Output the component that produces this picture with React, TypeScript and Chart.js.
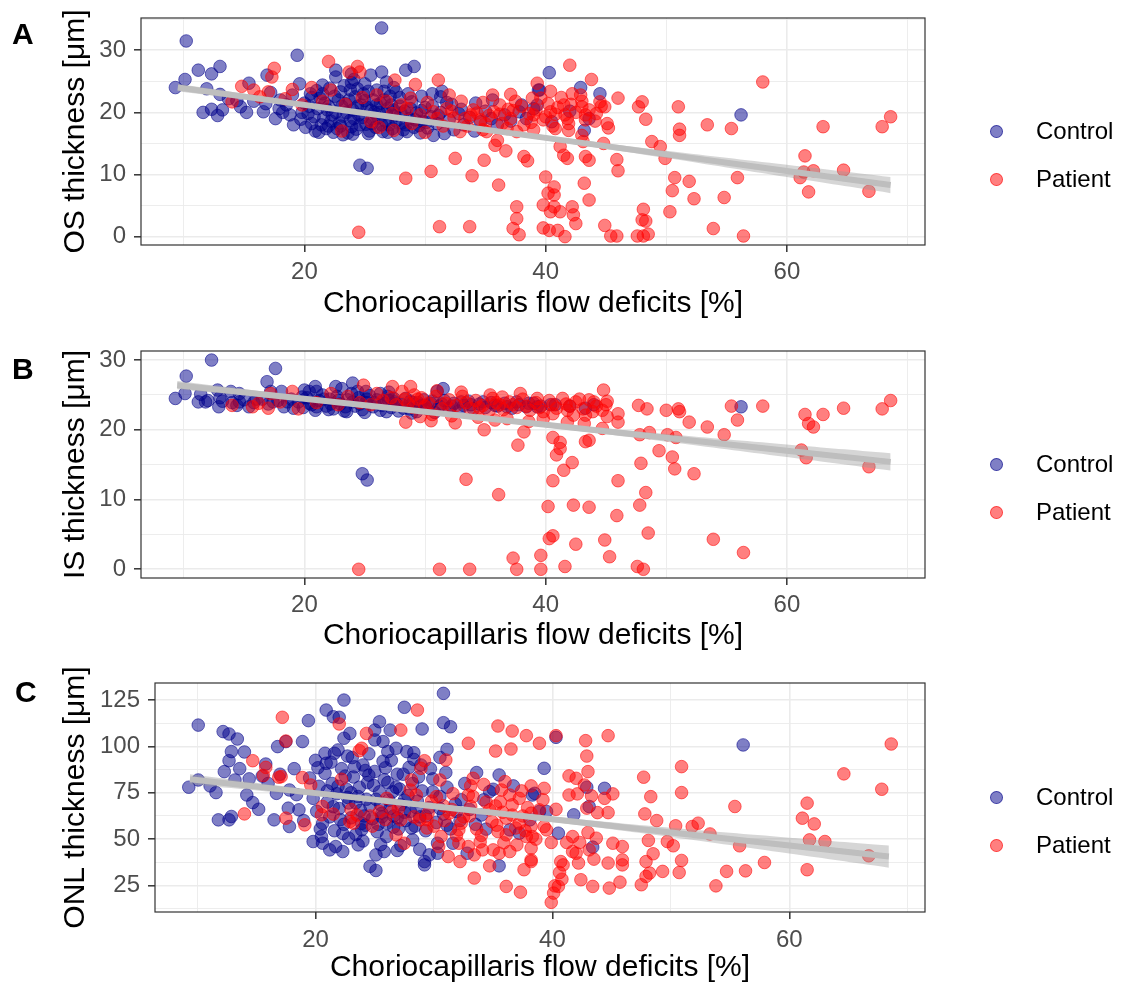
import React, { useEffect, useRef } from "react";
import { Chart, registerables } from "chart.js";

Chart.register(...registerables);

type Pt = [number, number];

// ---------- axes ----------
const xTicks = [10, 20, 30, 40, 50, 60, 70];
const xMajor = [20, 40, 60];
const osTicks = [0, 5, 10, 15, 20, 25, 30, 35];
const osMajor = [0, 10, 20, 30];
const isTicks = [0, 5, 10, 15, 20, 25, 30];
const isMajor = [0, 10, 20, 30];
const onlTicks = [12.5, 25, 37.5, 50, 62.5, 75, 87.5, 100, 112.5, 125];
const onlMajor = [25, 50, 75, 100, 125];

// ---------- Panel A : OS thickness ----------
const osControl: Pt[] = [
  [10.2, 31.5], [26.4, 33.6], [19.4, 29.2], [9.3, 24.0], [10.1, 25.3], [11.2, 26.8], [12.3, 26.2], [13.0, 27.4],
  [11.9, 23.8], [13.0, 22.9], [11.6, 20.0], [12.3, 20.5], [13.2, 20.4], [12.8, 19.5], [15.4, 24.7], [16.9, 26.0],
  [14.7, 20.9], [15.2, 20.0], [16.6, 20.1], [17.6, 19.0], [17.9, 20.6], [18.8, 19.6], [19.1, 18.0], [24.6, 11.5],
  [25.2, 11.0], [22.6, 26.8], [22.6, 25.7], [23.9, 26.2], [25.5, 26.0], [26.4, 26.5], [28.4, 26.8], [29.1, 27.4],
  [23.9, 24.8], [21.5, 24.4], [20.5, 23.0], [23.0, 23.3], [24.4, 23.8], [27.4, 24.0], [29.7, 22.6], [31.4, 23.4],
  [31.3, 22.5], [32.2, 21.3], [34.2, 21.5], [35.6, 22.0], [38.0, 21.2], [39.4, 23.6], [40.3, 26.4], [42.9, 24.0],
  [39.5, 23.6], [44.5, 23.0], [39.0, 20.6], [39.3, 21.2], [42.0, 20.2], [40.5, 18.5], [43.6, 19.0], [43.2, 17.1],
  [56.2, 19.6],
  [20.0, 21.5], [20.3, 19.8], [20.6, 18.2], [20.9, 17.0], [21.1, 20.6], [21.3, 22.3], [21.6, 19.1], [21.8, 17.4],
  [22.0, 21.0], [22.2, 18.6], [22.4, 16.8], [22.6, 20.0], [22.8, 22.0], [23.0, 17.8], [23.2, 19.4], [23.4, 21.4],
  [23.6, 16.7], [23.8, 18.7], [24.0, 20.4], [24.2, 22.5], [24.3, 17.3], [24.5, 19.6], [24.7, 21.2], [24.9, 23.0],
  [25.1, 18.1], [25.3, 16.6], [25.5, 20.3], [25.7, 22.0], [25.9, 17.6], [26.1, 19.1], [26.3, 21.5], [26.5, 16.9],
  [26.7, 18.6], [26.9, 20.6], [27.1, 22.6], [27.3, 17.4], [27.5, 19.5], [27.7, 16.5], [27.9, 21.0], [28.1, 18.3],
  [28.3, 20.2], [28.5, 16.9], [28.7, 19.0], [28.9, 21.7], [29.1, 17.6], [29.3, 19.9], [29.6, 16.7], [29.8, 18.6],
  [30.0, 20.8], [30.2, 17.5], [30.5, 19.3], [30.7, 16.3], [31.0, 18.2], [31.3, 20.0], [31.6, 16.6], [32.0, 18.8],
  [32.4, 17.2], [32.8, 19.8], [33.2, 18.0], [33.7, 19.2], [34.1, 17.0], [34.6, 18.5], [35.0, 20.2], [35.5, 19.0],
  [36.0, 18.0], [36.6, 19.6], [37.1, 18.6], [37.8, 20.1], [38.4, 19.0],
  [21.0, 23.5], [22.1, 23.9], [23.3, 24.3], [24.1, 25.3], [25.0, 24.6], [26.0, 23.6], [26.8, 24.9], [27.6, 23.3],
  [28.6, 23.0], [21.9, 20.4], [23.1, 21.0], [24.6, 18.0], [25.6, 19.0], [26.2, 20.0], [27.0, 18.0], [22.7, 17.4],
  [24.0, 16.5], [25.4, 17.0], [19.8, 20.0], [20.1, 17.6], [18.5, 21.2], [18.0, 22.0], [16.8, 21.4], [15.8, 21.8],
  [14.4, 21.9], [13.7, 22.2], [17.2, 23.2], [19.0, 22.8], [19.6, 24.6], [18.2, 20.0],
  [19.7, 18.9], [20.4, 21.0], [20.8, 19.3], [21.4, 18.0], [21.7, 21.5], [22.3, 19.6], [22.9, 18.3], [23.5, 20.0],
  [23.9, 17.7], [24.4, 21.0], [24.8, 19.2], [25.2, 20.8], [25.6, 18.2], [26.0, 21.2], [26.4, 18.0], [26.8, 19.8],
  [27.2, 21.2], [27.6, 18.6], [28.0, 19.9], [28.4, 18.0], [28.8, 20.6], [29.2, 18.8], [29.7, 20.3], [30.1, 18.4],
  [30.6, 21.0], [31.1, 19.5], [21.2, 16.8], [22.5, 22.6], [23.7, 22.0], [25.0, 21.9], [26.6, 22.0], [27.9, 22.4],
  [24.1, 19.0], [25.8, 20.0], [27.4, 20.4], [22.0, 17.8], [23.2, 16.4], [26.9, 16.8], [28.2, 17.2], [29.5, 17.9],
  [21.5, 23.0], [23.8, 23.6], [25.3, 23.4], [26.6, 23.4], [20.6, 22.4], [31.8, 21.6], [33.0, 20.5], [30.6, 23.0],
];
const osPatient: Pt[] = [
  [22.0, 28.2], [17.5, 27.1], [17.3, 25.7], [24.4, 27.4], [24.6, 26.5], [23.7, 26.5], [14.8, 24.2], [15.8, 23.6],
  [17.0, 23.3], [19.0, 23.7], [20.6, 24.0], [14.0, 21.7], [22.2, 23.6], [27.5, 25.2], [29.2, 24.5], [31.1, 25.2],
  [37.1, 22.9], [38.9, 22.3], [23.1, 17.0], [23.4, 21.3], [25.5, 18.5], [27.4, 17.1], [28.0, 21.2], [28.5, 20.6],
  [30.7, 20.1], [32.9, 16.9], [33.8, 19.6], [34.6, 18.8], [35.7, 20.1], [36.2, 21.2], [37.1, 19.0], [37.6, 16.9],
  [35.1, 16.9], [36.0, 15.5], [35.8, 14.7], [36.7, 13.8], [38.2, 12.9], [38.5, 12.2], [32.5, 12.6], [34.9, 12.3],
  [33.9, 9.8], [30.5, 10.5], [28.4, 9.4], [36.1, 8.3], [37.6, 4.8], [37.6, 2.9], [37.3, 1.3], [37.8, 0.3],
  [31.2, 1.6], [33.7, 1.6], [24.5, 0.7],
  [16.3, 22.5], [18.4, 22.2], [19.8, 21.2], [21.5, 21.8], [24.8, 22.4], [26.0, 22.8], [26.8, 21.8], [28.8, 22.3],
  [29.6, 19.6], [30.2, 21.6], [31.8, 20.6], [32.4, 19.1], [33.0, 21.8], [33.5, 17.8], [34.0, 20.4], [34.8, 21.6],
  [35.3, 19.5], [36.4, 18.2], [36.9, 20.5], [37.5, 21.8], [38.2, 18.0], [38.6, 19.8], [39.0, 17.2], [39.8, 18.8],
  [40.2, 21.4], [40.8, 19.7], [41.3, 22.4], [41.9, 18.2], [42.5, 20.0], [43.0, 21.8], [43.6, 20.4], [44.2, 19.8],
  [28.9, 18.2], [27.3, 19.8], [26.2, 17.6], [31.5, 17.8], [30.0, 16.8], [32.0, 22.8], [35.6, 22.8],
  [31.0, 19.0], [32.2, 20.2], [33.3, 19.0], [34.3, 19.9], [35.0, 18.2], [36.2, 19.7], [37.3, 20.3], [38.0, 21.0],
  [39.2, 20.4], [40.0, 19.3], [41.0, 20.8], [42.1, 21.3], [43.3, 18.8], [44.6, 21.0], [36.8, 17.4], [34.8, 17.2],
  [39.6, 22.3], [41.6, 19.6], [38.8, 18.4], [40.6, 17.8],
  [42.0, 27.6], [43.8, 25.3], [39.3, 24.7], [40.4, 23.4], [42.2, 23.0], [42.9, 22.8], [46.0, 22.3], [44.5, 21.7],
  [44.9, 20.9], [41.5, 21.2], [43.0, 20.9], [48.0, 21.7], [47.7, 20.9], [51.0, 20.9], [40.4, 20.1], [39.0, 19.6],
  [41.8, 19.0], [43.3, 19.6], [44.1, 18.6], [45.1, 18.2], [45.2, 17.5], [48.3, 18.9], [51.1, 17.3], [51.1, 16.3],
  [53.4, 18.0], [55.4, 17.4], [58.0, 24.9], [63.0, 17.7], [67.9, 17.7], [68.6, 19.3], [40.8, 17.4], [41.9, 17.1],
  [43.0, 16.3], [43.1, 15.3], [44.8, 15.0], [41.2, 14.5], [41.5, 13.1], [41.8, 12.6], [43.3, 12.9], [43.6, 12.3],
  [45.9, 12.4], [46.0, 10.6], [48.8, 15.3], [49.5, 14.5], [49.9, 12.6], [40.0, 9.6], [43.2, 8.6], [50.7, 9.5],
  [51.9, 8.9], [55.9, 9.5], [61.5, 13.0], [61.4, 10.4], [62.2, 10.6], [61.1, 9.5], [64.7, 10.7], [61.8, 7.2],
  [66.8, 7.3], [50.5, 7.4], [52.3, 6.1], [54.8, 6.3], [40.2, 7.0], [40.7, 8.0], [40.7, 6.7], [43.6, 5.9],
  [39.8, 5.1], [40.4, 4.0], [40.7, 4.8], [41.2, 4.0], [42.2, 4.8], [42.3, 3.5], [42.5, 2.1], [48.1, 4.4],
  [48.0, 2.7], [48.3, 2.5], [50.3, 4.0], [39.8, 1.4], [40.3, 1.0], [41.0, 1.0], [41.6, 0.0], [44.9, 1.8],
  [45.4, 0.1], [45.9, 0.1], [47.6, 0.1], [48.1, 0.1], [48.5, 0.4], [53.9, 1.3], [56.4, 0.1],
];
const osFitX = [9.5, 20, 30, 40, 50, 60, 68.6];
const osFitY = [24.0, 21.21, 18.55, 15.9, 13.24, 10.58, 8.3];
const osLow = [23.4, 20.86, 18.25, 15.5, 12.64, 9.58, 7.0];
const osHigh = [24.6, 21.56, 18.85, 16.3, 13.84, 11.58, 9.6];

// ---------- Panel B : IS thickness ----------
const isControl: Pt[] = [
  [12.3, 30.0], [10.2, 27.7], [17.6, 28.8], [9.3, 24.5], [10.1, 25.2], [16.9, 26.9], [12.8, 25.7], [11.2, 24.0],
  [11.8, 24.0], [12.9, 23.3], [13.9, 25.5], [14.6, 25.2], [14.4, 23.5], [15.4, 23.3], [17.2, 25.5], [18.1, 25.5],
  [18.3, 23.3], [19.1, 23.1], [20.4, 25.5], [20.9, 26.2], [22.6, 26.2], [23.1, 25.9], [24.0, 26.7], [25.1, 25.5],
  [26.3, 25.2], [27.4, 24.5], [31.0, 25.5], [31.5, 25.9], [24.8, 13.7], [25.2, 12.8], [40.4, 23.6], [56.2, 23.3],
  [39.3, 23.3], [43.3, 23.1],
  [19.5, 24.0], [19.9, 23.2], [20.2, 24.6], [20.6, 23.6], [20.9, 22.8], [21.2, 24.2], [21.5, 25.0], [21.8, 23.4],
  [22.1, 24.4], [22.4, 23.0], [22.7, 24.8], [23.0, 23.7], [23.3, 22.7], [23.6, 24.3], [23.9, 25.2], [24.2, 23.4],
  [24.5, 24.6], [24.8, 22.9], [25.1, 23.9], [25.4, 24.9], [25.7, 23.3], [26.0, 24.3], [26.3, 22.8], [26.6, 23.8],
  [26.9, 24.8], [27.2, 23.2], [27.5, 24.0], [27.8, 22.7], [28.1, 23.6], [28.4, 24.5], [28.7, 23.0], [29.0, 23.9],
  [29.3, 22.6], [29.6, 23.5], [29.9, 24.3], [30.2, 23.0], [30.5, 23.8], [30.8, 22.5], [31.2, 23.4], [31.6, 24.2],
  [32.0, 23.1], [32.4, 23.8], [32.8, 22.7], [33.2, 23.5], [33.6, 24.1], [34.0, 23.0], [34.5, 23.7], [35.0, 23.2],
  [35.5, 23.9], [36.0, 23.4], [36.6, 23.8], [37.2, 23.1], [37.8, 23.6], [38.4, 23.3], [39.0, 23.8], [13.2, 24.1],
  [14.0, 23.9], [15.0, 24.3], [15.8, 23.9], [16.5, 24.4], [17.0, 23.7], [17.8, 24.2], [18.6, 24.0], [20.0, 25.7],
  [21.0, 25.5], [22.0, 22.9], [23.5, 22.6], [25.0, 22.5], [26.8, 22.6], [28.9, 22.4], [24.4, 25.5], [27.0, 25.4],
  [19.8, 24.7], [20.4, 23.8], [21.0, 23.3], [21.6, 24.4], [22.2, 23.7], [22.8, 24.2], [23.4, 23.3], [24.0, 24.0],
  [24.6, 23.7], [25.2, 24.4], [25.8, 23.9], [26.4, 23.5], [27.0, 24.2], [27.6, 23.7], [28.2, 23.1], [28.8, 24.1],
  [29.4, 23.9], [30.0, 23.5], [30.6, 24.1], [31.4, 23.7], [32.2, 23.4], [33.0, 24.0], [33.8, 23.6], [34.8, 24.0],
  [35.8, 23.5], [36.8, 23.3], [37.6, 24.0], [38.6, 23.8], [39.6, 23.4], [40.8, 23.6], [42.0, 23.4], [44.0, 23.6],
  [14.6, 24.0], [16.0, 24.4], [17.4, 24.0], [18.9, 24.4], [13.0, 24.6], [12.0, 24.2], [11.4, 25.1],
];
const isPatient: Pt[] = [
  [19.0, 25.5], [17.2, 25.2], [15.7, 23.3], [14.0, 23.5], [17.0, 23.1], [22.2, 25.2], [24.9, 26.4], [27.3, 26.2],
  [28.8, 26.2], [28.1, 25.5], [29.1, 25.0], [28.4, 21.1], [29.6, 21.9], [30.5, 21.3], [32.5, 21.0], [34.9, 20.0],
  [35.4, 25.0], [36.4, 24.7], [37.9, 25.2], [35.8, 21.4], [38.2, 19.7], [37.7, 17.8], [33.4, 12.9], [36.1, 10.7],
  [24.5, 0.0], [31.2, 0.0], [33.7, 0.0], [37.3, 1.6], [37.6, 0.0], [39.6, 2.0], [39.6, 0.0],
  [27.6, 23.6], [28.3, 24.4], [29.0, 23.2], [29.7, 24.6], [30.3, 23.8], [30.9, 24.8], [31.4, 23.0], [32.0, 24.3],
  [32.6, 23.5], [33.1, 24.8], [33.7, 23.1], [34.2, 24.2], [34.8, 23.5], [35.3, 22.7], [35.9, 23.9], [36.5, 22.9],
  [37.0, 24.0], [37.6, 23.2], [38.1, 24.4], [38.7, 22.8], [39.2, 23.9], [39.8, 22.6], [40.3, 24.2], [40.9, 23.1],
  [41.4, 24.5], [42.0, 23.4], [42.5, 24.0], [43.1, 23.0], [43.6, 24.3], [44.2, 23.4], [44.7, 22.8], [26.0, 25.2],
  [25.5, 23.6], [23.6, 24.8], [22.8, 23.6], [21.0, 23.9], [19.5, 23.0], [18.0, 24.0], [16.2, 23.8], [30.6, 22.2],
  [32.2, 22.0], [34.4, 21.8], [36.8, 21.6], [38.6, 21.2], [31.0, 25.6], [33.0, 25.4],
  [27.2, 24.6], [28.6, 23.8], [29.4, 24.4], [30.0, 23.4], [31.7, 23.8], [33.4, 23.9], [34.5, 23.2], [35.6, 24.5],
  [36.2, 23.6], [37.3, 23.6], [38.4, 23.4], [39.5, 23.2], [40.6, 23.6], [41.7, 23.7], [42.8, 24.4], [44.0, 24.0],
  [45.0, 23.6], [43.9, 22.6], [26.5, 24.2], [24.6, 23.9],
  [44.8, 25.7], [45.1, 24.1], [39.3, 24.5], [40.6, 22.3], [39.8, 21.6], [41.8, 22.8], [42.3, 22.1], [43.3, 22.1],
  [46.0, 22.3], [46.0, 21.1], [45.1, 21.9], [41.8, 21.1], [43.2, 20.9], [44.7, 20.2], [47.7, 23.5], [48.4, 23.0],
  [50.0, 22.8], [51.0, 23.0], [51.1, 22.6], [51.9, 21.1], [53.4, 20.4], [54.8, 19.3], [55.4, 23.4], [55.9, 21.4],
  [58.0, 23.4], [61.5, 22.2], [61.8, 20.9], [62.2, 20.4], [63.0, 22.2], [64.7, 23.1], [67.9, 23.0], [68.6, 24.2],
  [61.2, 17.1], [61.6, 16.0], [66.8, 14.7], [47.8, 19.3], [48.6, 19.6], [50.1, 19.3], [50.8, 18.9], [49.4, 17.0],
  [50.5, 16.1], [50.7, 14.4], [52.3, 13.7], [47.9, 15.2], [48.3, 11.0], [47.8, 9.2], [48.5, 5.2], [46.0, 12.7],
  [45.9, 7.7], [44.9, 4.2], [45.3, 1.8], [47.6, 0.4], [48.1, 0.0], [53.9, 4.3], [56.4, 2.4], [40.6, 18.9],
  [41.2, 18.2], [41.2, 17.3], [40.9, 16.4], [43.3, 18.3], [43.6, 18.5], [42.2, 15.3], [41.5, 14.2], [40.6, 12.7],
  [40.2, 9.0], [42.3, 9.2], [43.6, 8.9], [40.3, 4.4], [40.6, 4.8], [42.5, 3.6], [41.6, 0.4],
];
const isFitX = [9.45, 20, 30, 40, 50, 60, 68.6];
const isFitY = [26.4, 24.44, 22.58, 20.72, 18.86, 17.0, 15.4];
const isLow = [25.8, 24.1, 22.3, 20.35, 18.3, 16.1, 14.15];
const isHigh = [27.0, 24.8, 22.86, 21.1, 19.4, 17.9, 16.65];

// ---------- Panel C : ONL thickness ----------
const onlControl: Pt[] = [
  [10.1, 111.5], [12.2, 108.0], [12.7, 106.7], [9.3, 78.0], [10.1, 81.9], [11.1, 78.7], [11.6, 75.1], [12.9, 97.2],
  [12.7, 92.3], [12.3, 86.4], [13.2, 81.9], [14.4, 82.5], [14.2, 73.8], [14.7, 69.7], [15.2, 66.1], [11.8, 60.4],
  [12.7, 60.4], [12.9, 62.2], [16.8, 99.9], [17.5, 102.6], [18.9, 102.6], [19.4, 113.9], [16.5, 60.4], [16.7, 74.7],
  [17.8, 76.5], [17.7, 66.7], [18.6, 65.8], [17.8, 56.8], [20.9, 119.6], [21.5, 116.0], [22.0, 115.7], [22.4, 125.0],
  [20.8, 96.3], [21.6, 96.3], [20.9, 90.9], [21.9, 98.1], [22.4, 104.4], [22.9, 107.0], [22.7, 94.8], [25.0, 108.8],
  [25.4, 113.3], [25.0, 103.5], [25.7, 102.6], [26.3, 108.8], [26.1, 97.2], [26.8, 99.0], [27.5, 121.1], [29.0, 109.4],
  [27.7, 97.2], [28.3, 96.6], [28.3, 93.0], [28.9, 90.0], [27.9, 88.7], [30.8, 128.6], [30.8, 112.8], [31.4, 110.6],
  [31.1, 98.4], [30.5, 94.1], [31.0, 85.9], [33.6, 85.9], [35.5, 84.6], [34.2, 71.2], [35.0, 76.9], [36.7, 78.7],
  [38.5, 74.7], [37.2, 53.2], [35.5, 35.6], [32.3, 71.2], [31.9, 64.9], [34.7, 75.6],
  [19.8, 48.7], [20.5, 51.4], [21.2, 44.2], [22.3, 43.3], [21.7, 46.0], [20.6, 47.8], [23.6, 46.9], [24.6, 35.3],
  [25.1, 33.1], [25.1, 41.5], [25.8, 43.3], [26.9, 43.9], [26.0, 51.4], [28.2, 49.6], [29.2, 37.9], [29.2, 36.1],
  [29.6, 41.5], [30.3, 42.4], [30.3, 47.8], [31.6, 47.8], [32.8, 42.4], [34.4, 55.4], [36.4, 55.0],
  [19.5, 83.0], [19.8, 72.0], [20.1, 65.0], [20.3, 78.5], [20.6, 58.5], [20.8, 85.5], [21.0, 70.0], [21.2, 62.0],
  [21.4, 80.0], [21.6, 54.5], [21.8, 74.5], [22.0, 66.5], [22.2, 88.0], [22.4, 58.0], [22.6, 77.0], [22.8, 69.5],
  [23.0, 61.5], [23.2, 83.5], [23.4, 52.5], [23.6, 73.0], [23.8, 65.5], [24.0, 90.0], [24.2, 57.5], [24.4, 80.5],
  [24.6, 68.0], [24.8, 61.0], [25.0, 86.5], [25.2, 54.0], [25.4, 75.5], [25.6, 64.0], [25.8, 82.0], [26.0, 58.5],
  [26.2, 71.0], [26.4, 92.5], [26.6, 62.5], [26.8, 78.0], [27.0, 55.5], [27.2, 68.5], [27.4, 85.0], [27.6, 60.0],
  [27.8, 73.5], [28.0, 65.0], [28.2, 80.0], [28.4, 57.0], [28.6, 70.5], [28.8, 62.0], [29.0, 76.0], [29.3, 54.5],
  [29.6, 67.0], [29.9, 82.5], [30.2, 59.0], [30.5, 73.0], [30.8, 63.5], [31.1, 78.0], [31.4, 55.5], [31.8, 69.0],
  [32.2, 60.0], [32.6, 80.0], [33.0, 66.0], [33.5, 58.0], [34.0, 63.0], [21.3, 91.5], [23.1, 94.0], [24.5, 96.0],
  [25.9, 88.5], [22.5, 84.0], [24.3, 71.5], [25.5, 68.5], [26.5, 75.5], [23.7, 78.0], [27.5, 64.5], [20.0, 92.5],
  [18.2, 88.0], [15.8, 90.5], [16.0, 80.0], [17.0, 85.0], [19.0, 60.0], [18.4, 74.0], [15.5, 84.0], [13.6, 88.0],
  [14.0, 97.0], [13.4, 104.0], [24.0, 49.0], [25.5, 47.0], [27.2, 46.5], [28.8, 44.5], [22.8, 50.5], [26.6, 56.5],
  [20.2, 88.5], [21.0, 76.0], [21.5, 67.5], [22.1, 60.5], [22.7, 72.5], [23.3, 89.0], [23.9, 58.5], [24.5, 84.5],
  [25.1, 71.5], [25.7, 92.0], [26.3, 66.5], [26.9, 85.0], [27.5, 71.0], [28.1, 56.0], [28.7, 83.5], [29.3, 62.5],
  [29.9, 75.5], [30.5, 66.5], [31.1, 57.5], [24.1, 62.5], [25.3, 58.0], [26.9, 61.5], [22.3, 53.0], [23.9, 55.0],
  [24.9, 79.0], [26.1, 80.5], [27.1, 77.0], [23.0, 75.0], [21.9, 78.5], [20.4, 55.5], [28.5, 67.0], [29.7, 88.0],
  [25.6, 62.0], [24.2, 87.0], [23.4, 69.5],
  [40.3, 104.9], [39.3, 88.2], [38.3, 73.8], [42.9, 78.0], [44.4, 77.4], [43.1, 67.6], [41.8, 63.1], [38.9, 64.9],
  [39.5, 64.9], [38.1, 60.4], [40.5, 53.2], [43.4, 45.7], [56.1, 100.8],
];
const onlPatient: Pt[] = [
  [17.2, 115.7], [22.0, 112.1], [28.6, 119.6], [27.2, 108.8], [24.3, 107.0], [23.9, 99.0], [23.7, 97.7], [17.5, 102.9],
  [14.7, 92.3], [15.8, 88.7], [15.6, 84.3], [16.9, 83.4], [17.1, 83.7], [18.9, 83.2], [19.6, 79.2], [14.0, 63.6],
  [17.5, 61.3], [19.1, 57.7], [20.5, 63.1], [22.2, 82.3], [31.0, 92.7], [29.2, 92.3], [28.9, 88.2], [30.5, 81.9],
  [28.1, 81.9], [32.9, 101.7], [35.4, 111.0], [36.6, 108.3], [37.8, 105.8], [35.2, 97.5], [36.5, 98.6], [33.3, 82.8],
  [33.1, 78.7], [32.9, 73.8], [38.2, 78.7], [35.7, 76.5], [36.4, 73.8], [37.2, 72.0], [33.1, 67.6], [34.7, 65.8],
  [35.2, 67.9], [36.1, 61.3], [37.2, 58.6], [35.4, 54.1], [36.1, 52.3], [37.8, 51.4], [37.0, 46.9], [35.0, 44.2],
  [34.1, 44.2], [35.5, 42.4], [36.4, 43.3], [38.2, 38.8], [32.9, 46.0], [33.4, 41.5], [32.2, 37.9], [34.7, 35.6],
  [37.6, 33.5], [33.4, 29.0], [36.1, 24.5], [37.3, 21.4], [31.2, 40.6], [30.6, 51.4], [32.1, 55.0], [31.3, 64.0],
  [23.2, 58.6], [22.9, 59.5], [25.4, 64.9], [26.5, 64.9], [27.2, 60.4], [27.5, 47.8], [26.8, 52.3], [28.8, 60.4],
  [29.5, 64.0], [30.2, 72.9], [28.5, 73.8], [28.0, 76.5], [32.1, 47.8], [32.3, 58.6], [38.2, 64.0], [38.6, 50.0],
  [20.6, 67.6],
  [30.0, 57.0], [30.8, 68.0], [31.6, 74.5], [32.5, 62.0], [33.6, 55.5], [34.4, 70.0], [34.9, 59.5], [35.8, 64.5],
  [36.6, 68.5], [37.5, 62.5], [33.9, 48.5], [35.9, 48.0], [36.9, 56.0], [31.9, 52.0], [29.4, 56.0], [30.4, 46.0],
  [34.2, 79.5], [36.0, 81.0], [37.4, 76.0], [37.9, 67.0], [29.8, 70.5], [26.0, 72.0], [24.8, 57.0], [23.5, 63.0],
  [21.5, 63.5], [23.0, 66.0], [24.6, 62.5], [25.9, 60.5], [27.0, 66.5], [28.3, 62.0], [29.4, 60.5], [30.9, 60.0],
  [31.5, 66.0], [33.0, 62.5], [34.0, 52.0], [35.3, 57.5], [36.6, 63.0], [37.7, 54.5], [33.3, 73.0], [35.6, 70.0],
  [40.3, 105.8], [38.9, 101.7], [42.8, 103.1], [44.7, 105.8], [42.9, 94.8], [43.0, 86.4], [41.4, 84.1], [42.0, 82.8],
  [42.7, 79.2], [39.3, 77.4], [42.1, 74.4], [43.3, 73.3], [44.4, 72.0], [45.1, 74.4], [41.4, 73.8], [39.2, 71.2],
  [42.9, 66.7], [43.8, 64.3], [44.7, 64.3], [40.3, 66.1], [38.9, 65.8], [38.2, 56.8], [38.3, 51.4], [38.2, 45.1],
  [38.2, 37.9], [39.3, 56.8], [39.5, 55.0], [39.9, 48.2], [41.2, 48.2], [41.7, 51.4], [42.3, 48.2], [41.7, 43.3],
  [42.0, 42.4], [40.7, 37.9], [42.2, 37.1], [40.9, 36.1], [43.0, 53.6], [43.7, 50.5], [43.1, 44.2], [43.5, 39.2],
  [44.7, 37.1], [45.1, 47.8], [45.9, 46.0], [45.9, 38.8], [45.9, 36.1], [40.6, 32.0], [40.8, 28.4], [40.5, 24.5],
  [40.2, 24.8], [40.1, 20.9], [39.9, 15.9], [42.4, 28.1], [43.4, 24.5], [44.8, 23.6], [45.7, 26.8], [47.5, 25.4],
  [47.9, 29.9], [48.2, 31.7], [47.9, 37.9], [48.5, 42.1], [48.1, 49.3], [47.8, 63.6], [48.8, 60.0], [47.7, 83.4],
  [48.3, 72.9], [49.3, 32.6], [50.7, 32.0], [50.9, 38.5], [49.7, 48.7], [50.2, 46.4], [50.4, 57.2], [50.9, 89.1],
  [50.9, 75.1], [51.8, 56.8], [52.3, 58.6], [53.3, 52.8], [53.8, 24.8], [54.7, 32.6], [55.4, 67.6], [55.8, 46.4],
  [56.3, 32.9], [57.9, 37.4], [61.1, 61.3], [61.5, 69.4], [62.1, 58.2], [61.7, 49.6], [63.0, 48.7], [61.5, 33.5],
  [64.6, 85.2], [66.7, 41.0], [67.8, 76.9], [68.6, 101.3],
];
const onlFitX = [9.4, 20, 30, 40, 50, 60, 68.4];
const onlFitY = [82.3, 74.81, 67.74, 60.67, 53.6, 46.53, 40.6];
const onlLow = [79.6, 73.2, 66.5, 59.2, 51.1, 42.2, 34.6];
const onlHigh = [85.0, 76.4, 69.0, 62.2, 56.1, 50.8, 46.6];

// ---------- styling ----------
const FONT = '"Liberation Sans", Arial, Helvetica, sans-serif';
const CONTROL_FILL = "rgba(0,0,139,0.5)";
const CONTROL_EDGE = "rgba(0,0,139,0.55)";
const PATIENT_FILL = "rgba(255,0,0,0.5)";
const PATIENT_EDGE = "rgba(255,0,0,0.55)";
const XMIN = 6.45;
const XMAX = 71.45;

interface PanelCfg {
  top: number;
  height: number;
  padTop: number;
  yWidth: number;
  chartBottom: number;
  xTickPad: number;
  xTitlePad: number;
  yMin: number;
  yMax: number;
  yTicks: number[];
  yMajor: number[];
  yTitle: string;
  control: Pt[];
  patient: Pt[];
  fitX: number[];
  fitY: number[];
  low: number[];
  high: number[];
}

const near = (list: number[], v: number) => list.some((m) => Math.abs(m - v) < 1e-6);

const framePlugin = {
  id: "frame",
  afterDatasetsDraw(chart: any) {
    const { ctx, chartArea } = chart;
    ctx.save();
    ctx.strokeStyle = "#333333";
    ctx.lineWidth = 1.2;
    ctx.strokeRect(chartArea.left, chartArea.top, chartArea.right - chartArea.left, chartArea.bottom - chartArea.top);
    ctx.restore();
  },
};

function Panel({ cfg }: { cfg: PanelCfg }) {
  const ref = useRef<HTMLCanvasElement>(null);
  useEffect(() => {
    const toXY = (pts: Pt[]) => pts.map(([x, y]) => ({ x, y }));
    const line = (ys: number[]) => cfg.fitX.map((x, i) => ({ x, y: ys[i] }));
    const chart = new Chart(ref.current as HTMLCanvasElement, {
      type: "scatter",
      data: {
        datasets: [
          {
            label: "fit",
            data: line(cfg.fitY),
            showLine: true,
            borderColor: "#BEBEBE",
            borderWidth: 6,
            pointRadius: 0,
            fill: false,
            tension: 0,
            order: 0,
          } as any,
          {
            label: "upper",
            data: line(cfg.high),
            showLine: true,
            borderColor: "rgba(0,0,0,0)",
            borderWidth: 1,
            pointRadius: 0,
            fill: "+1",
            backgroundColor: "rgba(153,153,153,0.4)",
            tension: 0.4,
            order: 1,
          } as any,
          {
            label: "lower",
            data: line(cfg.low),
            showLine: true,
            borderColor: "rgba(0,0,0,0)",
            borderWidth: 1,
            pointRadius: 0,
            fill: false,
            tension: 0.4,
            order: 1,
          } as any,
          {
            label: "Patient",
            data: toXY(cfg.patient),
            backgroundColor: PATIENT_FILL,
            borderColor: PATIENT_EDGE,
            borderWidth: 1,
            pointRadius: 6.3,
            order: 2,
          },
          {
            label: "Control",
            data: toXY(cfg.control),
            backgroundColor: CONTROL_FILL,
            borderColor: CONTROL_EDGE,
            borderWidth: 1,
            pointRadius: 6.3,
            order: 3,
          },
        ],
      },
      options: {
        animation: false,
        responsive: false,
        devicePixelRatio: 1,
        events: [],
        layout: { padding: { top: cfg.padTop, right: 1121 - 925, left: 0, bottom: 0 } },
        plugins: { legend: { display: false }, tooltip: { enabled: false } },
        scales: {
          x: {
            type: "linear",
            min: XMIN,
            max: XMAX,
            afterBuildTicks: (s: any) => {
              s.ticks = xTicks.map((v) => ({ value: v }));
            },
            afterFit: (s: any) => {
              s.height = cfg.height - cfg.chartBottom;
              s.paddingLeft = 0;
              s.paddingRight = 0;
            },
            ticks: {
              autoSkip: false,
              maxRotation: 0,
              padding: cfg.xTickPad,
              color: "#4D4D4D",
              font: { family: FONT, size: 24 },
              callback: (v: any) => (near(xMajor, Number(v)) ? String(v) : ""),
            },
            grid: {
              color: "#EBEBEB",
              lineWidth: (c: any) => (c.tick && near(xMajor, c.tick.value) ? 1.6 : 0.9),
              tickColor: (c: any) => (c.tick && near(xMajor, c.tick.value) ? "#333333" : "rgba(0,0,0,0)"),
              tickWidth: 1.5,
              tickLength: 7,
            },
            border: { display: false },
            title: {
              display: true,
              text: "Choriocapillaris flow deficits [%]",
              color: "#000000",
              font: { family: FONT, size: 30 },
              padding: { top: 0, bottom: cfg.xTitlePad },
            },
          } as any,
          y: {
            type: "linear",
            min: cfg.yMin,
            max: cfg.yMax,
            afterBuildTicks: (s: any) => {
              s.ticks = cfg.yTicks.map((v) => ({ value: v }));
            },
            afterFit: (s: any) => {
              s.width = cfg.yWidth;
              s.paddingTop = 0;
              s.paddingBottom = 0;
            },
            ticks: {
              autoSkip: false,
              padding: 8,
              color: "#4D4D4D",
              font: { family: FONT, size: 24 },
              callback: (v: any) => (near(cfg.yMajor, Number(v)) ? String(v) : ""),
            },
            grid: {
              color: "#EBEBEB",
              lineWidth: (c: any) => (c.tick && near(cfg.yMajor, c.tick.value) ? 1.6 : 0.9),
              tickColor: (c: any) => (c.tick && near(cfg.yMajor, c.tick.value) ? "#333333" : "rgba(0,0,0,0)"),
              tickWidth: 1.5,
              tickLength: 7,
            },
            border: { display: false },
            title: {
              display: true,
              text: cfg.yTitle,
              color: "#000000",
              font: { family: FONT, size: 30 },
              padding: { top: 58, bottom: 0 },
            },
          } as any,
        },
      },
      plugins: [framePlugin],
    });
    return () => chart.destroy();
  }, [cfg]);
  return (
    <canvas
      ref={ref}
      width={1121}
      height={cfg.height}
      style={{ position: "absolute", left: 0, top: cfg.top, width: 1121, height: cfg.height }}
    />
  );
}

const panels: { letter: string; letterTop: number; letterLeft: number; legendY: number; cfg: PanelCfg }[] = [
  {
    letter: "A",
    letterTop: 19,
    letterLeft: 12,
    legendY: 131,
    cfg: {
      top: 0, height: 330, padTop: 18, yWidth: 141, chartBottom: 245, xTickPad: 6, xTitlePad: 8,
      yMin: -1.35, yMax: 35.2, yTicks: osTicks, yMajor: osMajor, yTitle: "OS thickness [μm]",
      control: osControl, patient: osPatient, fitX: osFitX, fitY: osFitY, low: osLow, high: osHigh,
    },
  },
  {
    letter: "B",
    letterTop: 354,
    letterLeft: 12,
    legendY: 464,
    cfg: {
      top: 330, height: 330, padTop: 21, yWidth: 141, chartBottom: 248, xTickPad: 6, xTitlePad: 6,
      yMin: -1.25, yMax: 31.3, yTicks: isTicks, yMajor: isMajor, yTitle: "IS thickness [μm]",
      control: isControl, patient: isPatient, fitX: isFitX, fitY: isFitY, low: isLow, high: isHigh,
    },
  },
  {
    letter: "C",
    letterTop: 677,
    letterLeft: 15,
    legendY: 797,
    cfg: {
      top: 660, height: 327, padTop: 23, yWidth: 155, chartBottom: 252, xTickPad: 7, xTitlePad: 1,
      yMin: 10.7, yMax: 134.2, yTicks: onlTicks, yMajor: onlMajor, yTitle: "ONL thickness [μm]",
      control: onlControl, patient: onlPatient, fitX: onlFitX, fitY: onlFitY, low: onlLow, high: onlHigh,
    },
  },
];

const legendItems = [
  { label: "Control", fill: CONTROL_FILL, edge: CONTROL_EDGE, dy: 0 },
  { label: "Patient", fill: PATIENT_FILL, edge: PATIENT_EDGE, dy: 48 },
];

export default function App() {
  return (
    <div style={{ position: "absolute", left: 0, top: 0, width: 1121, height: 987, background: "#fff", overflow: "hidden" }}>
      {panels.map((p) => (
        <React.Fragment key={p.letter}>
          <Panel cfg={p.cfg} />
          <div
            style={{
              position: "absolute",
              left: p.letterLeft,
              top: p.letterTop,
              fontFamily: FONT,
              fontWeight: "bold",
              fontSize: 30,
              lineHeight: "30px",
              color: "#000",
            }}
          >
            {p.letter}
          </div>
          {legendItems.map((it) => (
            <React.Fragment key={it.label}>
              <div
                style={{
                  position: "absolute",
                  left: 990,
                  top: p.legendY + it.dy - 6.5,
                  width: 11,
                  height: 11,
                  borderRadius: "50%",
                  background: it.fill,
                  border: `1px solid ${it.edge}`,
                }}
              />
              <div
                style={{
                  position: "absolute",
                  left: 1036,
                  top: p.legendY + it.dy - 14,
                  fontFamily: FONT,
                  fontSize: 24,
                  lineHeight: "28px",
                  color: "#000",
                  whiteSpace: "nowrap",
                }}
              >
                {it.label}
              </div>
            </React.Fragment>
          ))}
        </React.Fragment>
      ))}
    </div>
  );
}
